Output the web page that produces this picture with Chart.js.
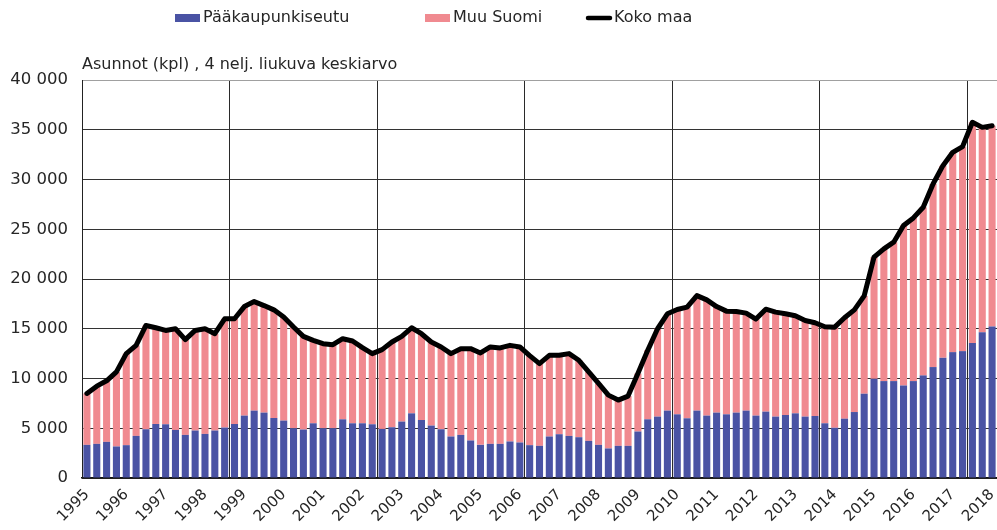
<!DOCTYPE html>
<html>
<head>
<meta charset="utf-8">
<script src="https://cdn.jsdelivr.net/npm/chart.js@4.4.0/dist/chart.umd.min.js"></script>
<style>
  body { margin: 0; background: #fff; }
  #wrap { width: 997px; height: 530px; position: relative; }
</style>
</head>
<body>
<div id="wrap"><canvas id="kuvio"></canvas></div>
<script>
// vuosi-tunnukset x-akselille (joka neljas neljannes)
const vuodet = ['1995','1996','1997','1998','1999','2000','2001','2002','2003','2004','2005','2006',
  '2007','2008','2009','2010','2011','2012','2013','2014','2015','2016','2017','2018']

// neljannekset 1995Q1 - 2018Q1
const neljannekset = []
for (let i = 0; i < vuodet.length; i++) {
  for (let q = 1; q <= 4; q++) {
    if (vuodet[i] === '2018' && q > 1) break
    neljannekset.push(vuodet[i] + 'Q' + q)
  }
}

const paakaupunkiseutu = [3330,3430,3630,3170,3300,4230,4900,5430,5400,4830,4330,4770,4430,4770,5070,
  5430,6270,6770,6570,6030,5770,5000,4870,5500,5000,5000,5900,5500,5500,5400,
  4930,5100,5670,6500,5830,5270,4900,4170,4330,3770,3330,3430,3430,3670,3570,
  3300,3230,4170,4400,4230,4100,3730,3330,2970,3230,3230,4670,5900,6170,6770,
  6400,6000,6770,6270,6570,6400,6570,6770,6270,6670,6170,6330,6500,6170,6230,
  5500,5050,5960,6630,8470,9970,9740,9740,9300,9740,10310,11150,12080,12650,12750,13560,14660,15230]

const muuSuomi = [5170,5800,6140,7500,9200,9100,10430,9670,9430,10170,9570,10060,10570,9730,10930,
  10570,10960,10960,10760,10870,10400,10170,9360,8330,8500,8400,8100,8270,7600,7100,
  7970,8570,8560,8600,8670,8400,8270,8330,8670,9230,9240,9740,9640,9660,9600,
  9000,8270,8160,7930,8270,7730,6940,6170,5360,4600,5000,5830,6930,8830,9730,
  10530,11170,11560,11630,10660,10370,10160,9800,9700,10300,10500,10170,9800,9660,9370,
  9700,10110,10140,10270,9830,12220,13290,13960,16070,16400,16900,18400,19310,20080,20550,22190,20580,20180]

const kokoMaa = [8500,9230,9770,10670,12500,13330,15330,15100,14830,15000,13900,14830,15000,14500,16000,
  16000,17230,17730,17330,16900,16170,15170,14230,13830,13500,13400,14000,13770,13100,12500,
  12900,13670,14230,15100,14500,13670,13170,12500,13000,13000,12570,13170,13070,13330,13170,
  12300,11500,12330,12330,12500,11830,10670,9500,8330,7830,8230,10500,12830,15000,16500,
  16930,17170,18330,17900,17230,16770,16730,16570,15970,16970,16670,16500,16300,15830,15600,
  15200,15160,16100,16900,18300,22190,23030,23700,25370,26140,27210,29550,31390,32730,33300,35750,35240,35410]

const sininen = '#4a53a4'
const punainen = '#f08a90'
const fontti = 'DejaVu Sans'
const tekstiVari = '#262626'

// oma selite ja y-akselin otsikko
const omaSelite = {
  id: 'omaSelite',
  afterDraw(chart) {
    const ctx = chart.ctx
    const ca = chart.chartArea
    ctx.save()
    ctx.fillStyle = tekstiVari
    ctx.font = '16px "' + fontti + '"'
    ctx.textBaseline = 'bottom'
    ctx.textAlign = 'left'
    ctx.fillText('Asunnot (kpl) , 4 nelj. liukuva keskiarvo', ca.left, ca.top - 7)

    const alut = [175, 425, 586]
    const y = 18
    chart.data.datasets.forEach((ds, i) => {
      const x = alut[i]
      if (ds.type === 'line') {
        ctx.strokeStyle = ds.borderColor
        ctx.lineWidth = 4.5
        ctx.lineCap = 'round'
        ctx.beginPath()
        ctx.moveTo(x + 2, y)
        ctx.lineTo(x + 24, y)
        ctx.stroke()
      } else {
        ctx.fillStyle = ds.backgroundColor
        ctx.fillRect(x, y - 4, 25, 8)
      }
      ctx.fillStyle = tekstiVari
      ctx.font = '16px "' + fontti + '"'
      ctx.textBaseline = 'middle'
      ctx.fillText(ds.label, x + 28, y)
    })
    ctx.restore()
  }
}

const data = {
  labels: neljannekset,
  datasets: [
    {
      type: 'bar',
      label: 'Pääkaupunkiseutu',
      data: paakaupunkiseutu,
      backgroundColor: sininen,
      stack: 'alueet',
      order: 1,
      barPercentage: 0.72,
      categoryPercentage: 1
    },
    {
      type: 'bar',
      label: 'Muu Suomi',
      data: muuSuomi,
      backgroundColor: punainen,
      stack: 'alueet',
      order: 1,
      barPercentage: 0.72,
      categoryPercentage: 1
    },
    {
      type: 'line',
      label: 'Koko maa',
      data: kokoMaa,
      borderColor: '#000',
      backgroundColor: '#000',
      borderWidth: 5,
      borderJoinStyle: 'round',
      borderCapStyle: 'round',
      pointRadius: 0,
      tension: 0,
      stack: 'koko',
      order: 0
    }
  ]
}

const config = {
  data: data,
  options: {
    responsive: true,
    maintainAspectRatio: false,
    animation: false,
    layout: { padding: { top: 80, left: 0, right: 0, bottom: 0 } },
    plugins: {
      legend: { display: false },
      tooltip: { enabled: false }
    },
    scales: {
      x: {
        stacked: true,
        offset: true,
        afterFit(scale) {
          scale.height = 52
          scale.paddingRight = 0
        },
        grid: {
          offset: true,
          drawTicks: false,
          color: (c) => (c.index > 0 && c.index % 15 === 0) ? '#2a2a2a' : 'rgba(0,0,0,0)',
          lineWidth: 1
        },
        border: { display: true, color: '#111', width: 1.5 },
        ticks: {
          autoSkip: false,
          maxRotation: 45,
          minRotation: 45,
          padding: 8,
          color: tekstiVari,
          font: { family: fontti, size: 15 },
          callback: function (v, i) { return i % 4 === 0 ? vuodet[i / 4] : '' }
        }
      },
      y: {
        stacked: true,
        min: 0,
        max: 40000,
        afterFit(scale) { scale.width = 82 },
        grid: {
          drawTicks: false,
          color: (c) => c.tick.value === 40000 ? '#a0a0a0' : '#333',
          lineWidth: 1
        },
        border: { display: true, color: '#222', width: 1 },
        ticks: {
          stepSize: 5000,
          padding: 14,
          color: tekstiVari,
          font: { family: fontti, size: 16.5 },
          callback: (v) => String(v).replace(/\B(?=(\d{3})+(?!\d))/g, ' ')
        }
      }
    }
  },
  plugins: [omaSelite]
}

const kuvio = new Chart(document.getElementById('kuvio'), config)
</script>
</body>
</html>
